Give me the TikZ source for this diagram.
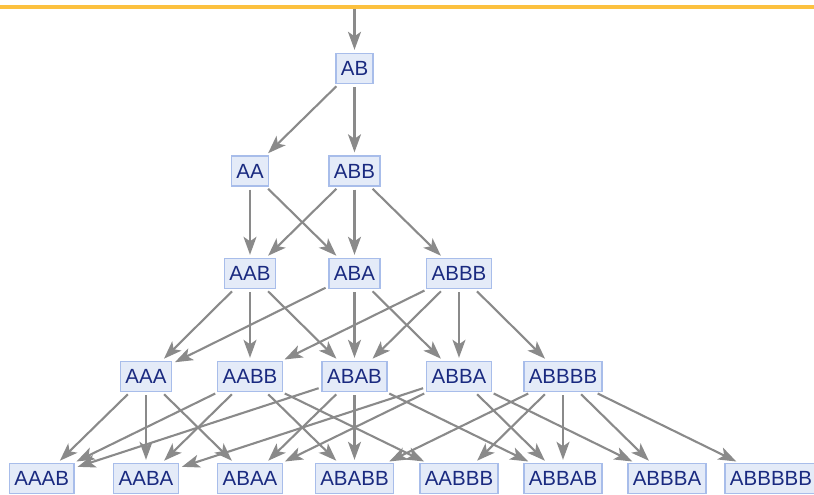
\documentclass[tikz,border=0pt]{standalone}
\usepackage{fontspec}
\setmainfont{Liberation Sans}
\usetikzlibrary{arrows.meta}
\definecolor{boxfill}{HTML}{E4EBF8}
\definecolor{boxdraw}{HTML}{A8BDEA}
\definecolor{txtblue}{HTML}{1A2A80}
\definecolor{edgegray}{HTML}{8A8A8A}
\definecolor{topline}{HTML}{FCC13F}
\begin{document}
\begin{tikzpicture}[x=1pt,y=-1pt,
  vbox/.style={draw=boxdraw, fill=boxfill, line width=1.4pt, text=txtblue,
    font=\fontsize{20.5}{22}\selectfont, inner xsep=5pt, inner ysep=0pt,
    text height=14.7pt, text depth=0pt, minimum height=30pt},
  conn/.style={draw=edgegray, line width=2.1pt,
    -{Stealth[length=18pt,width=13pt,inset=4.5pt]},
    shorten <=3pt, shorten >=3pt}]
\useasboundingbox (0,0) rectangle (814,495);
\fill[topline] (0,5) rectangle (814,9);
% columns
\def\ca{41.7}\def\cb{146}\def\cc{250}\def\cd{354.5}
\def\ce{459}\def\cf{563}\def\cg{667}\def\ch{771}
% rows
\def\ra{68.5}\def\rb{171}\def\rc{273.5}\def\rd{376.5}\def\re{478.5}
\coordinate (top) at (\cd,9);
\node[vbox] (AB) at (\cd,\ra) {AB};
\node[vbox] (AA) at (\cc,\rb) {AA};
\node[vbox] (ABB) at (\cd,\rb) {ABB};
\node[vbox] (AAB) at (\cc,\rc) {AAB};
\node[vbox] (ABA) at (\cd,\rc) {ABA};
\node[vbox] (ABBB) at (\ce,\rc) {ABBB};
\node[vbox] (AAA) at (\cb,\rd) {AAA};
\node[vbox] (AABB) at (\cc,\rd) {AABB};
\node[vbox] (ABAB) at (\cd,\rd) {ABAB};
\node[vbox] (ABBA) at (\ce,\rd) {ABBA};
\node[vbox] (ABBBB) at (\cf,\rd) {ABBBB};
\node[vbox] (AAAB) at (\ca,\re) {AAAB};
\node[vbox] (AABA) at (\cb,\re) {AABA};
\node[vbox] (ABAA) at (\cc,\re) {ABAA};
\node[vbox] (ABABB) at (\cd,\re) {ABABB};
\node[vbox] (AABBB) at (\ce,\re) {AABBB};
\node[vbox] (ABBAB) at (\cf,\re) {ABBAB};
\node[vbox] (ABBBA) at (\cg,\re) {ABBBA};
\node[vbox] (ABBBBB) at (\ch,\re) {ABBBBB};
\draw[conn, shorten <=0pt] (top) -- (AB);
\foreach \s/\t in {AB/AA, AB/ABB,
  AA/AAB, AA/ABA,
  ABB/AAB, ABB/ABA, ABB/ABBB,
  AAB/AAA, AAB/AABB, AAB/ABAB,
  ABA/AAA, ABA/ABAB, ABA/ABBA,
  ABBB/AABB, ABBB/ABAB, ABBB/ABBA, ABBB/ABBBB,
  AAA/AAAB, AAA/AABA, AAA/ABAA,
  AABB/AAAB, AABB/AABA, AABB/ABABB, AABB/AABBB,
  ABAB/AAAB, ABAB/ABAA, ABAB/ABABB, ABAB/ABBAB,
  ABBA/AABA, ABBA/ABAA, ABBA/ABBAB, ABBA/ABBBA,
  ABBBB/AABBB, ABBBB/ABABB, ABBBB/ABBAB, ABBBB/ABBBA, ABBBB/ABBBBB}
  {\draw[conn] (\s) -- (\t);}
\end{tikzpicture}
\end{document}
